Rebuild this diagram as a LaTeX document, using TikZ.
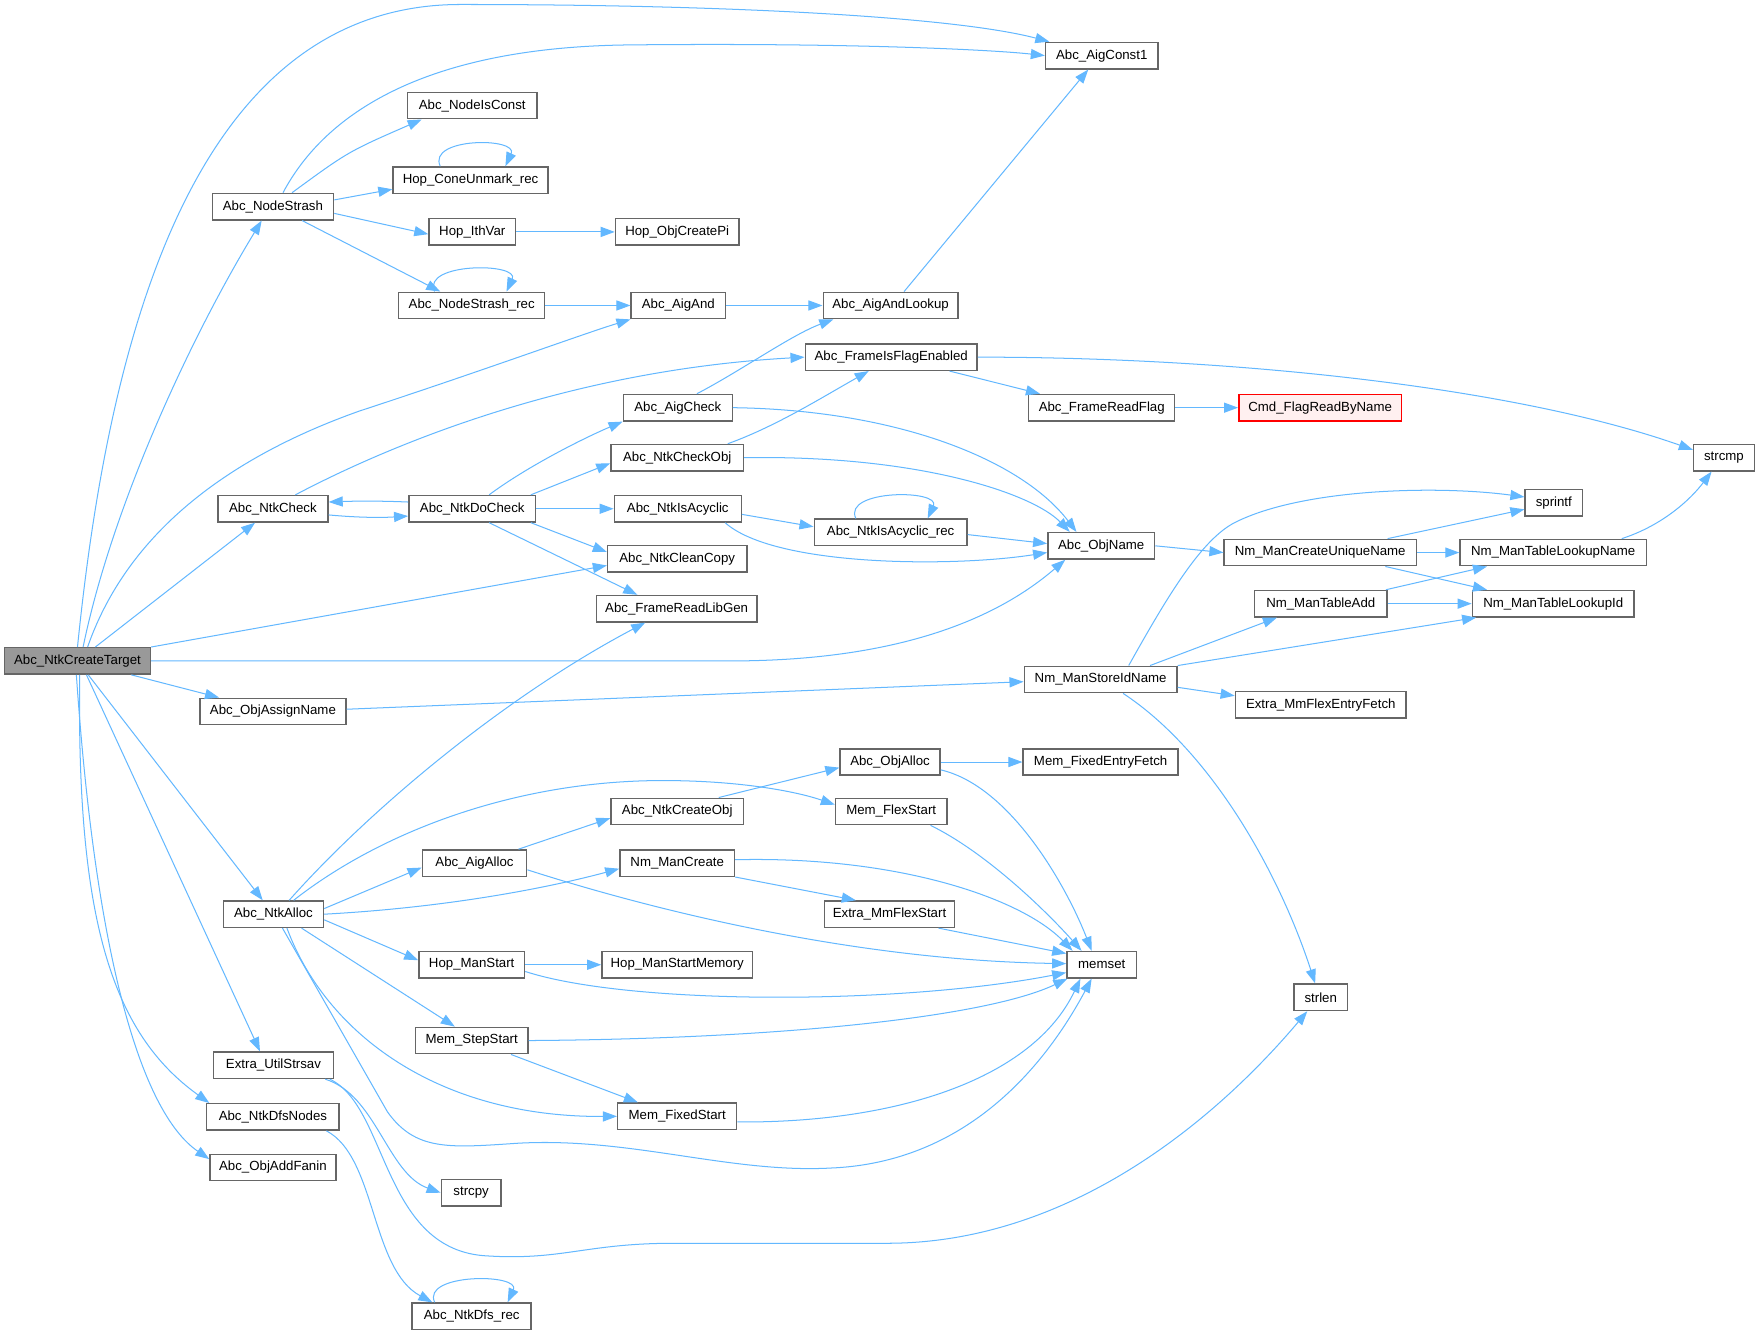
\documentclass[tikz,border=0pt]{standalone}
\usepackage{fontspec}
\setmainfont{Liberation Sans}
\usetikzlibrary{arrows.meta}
\definecolor{edgec}{HTML}{63B8FF}
\definecolor{bord}{HTML}{666666}
\definecolor{rootf}{HTML}{999999}
\definecolor{redf}{HTML}{FFF0F0}
\begin{document}
\begin{tikzpicture}[x=1pt,y=-1pt,
  fn/.style={draw=bord, fill=white, line width=1.3pt, minimum width=#1, minimum height=23.5pt, inner sep=0pt, font=\fontsize{11.8}{13}\selectfont},
  root/.style={fn=#1, fill=rootf},
  redn/.style={fn=#1, draw=red, fill=redf},
  e/.style={draw=edgec, line width=0.9pt, -{Triangle[length=12.5pt,width=9pt]}},
]
\fill[white] (0,0) rectangle (1568,1190);
\useasboundingbox (0,0) rectangle (1568,1190);

\node[root=130] (T) at (69,588.5) {Abc\_NtkCreateTarget};
\node[fn=100] (AC1) at (981,49.5) {Abc\_AigConst1};
\node[fn=115] (NIC) at (420.5,94) {Abc\_NodeIsConst};
\node[fn=138] (HCU) at (419,160.5) {Hop\_ConeUnmark\_rec};
\node[fn=108] (NS) at (243,184) {Abc\_NodeStrash};
\node[fn=77] (HIV) at (420.5,206.5) {Hop\_IthVar};
\node[fn=110] (HOP) at (603,206.5) {Hop\_ObjCreatePi};
\node[fn=130] (NSR) at (420,272) {Abc\_NodeStrash\_rec};
\node[fn=84] (AA) at (604,272) {Abc\_AigAnd};
\node[fn=120] (AAL) at (793,272) {Abc\_AigAndLookup};
\node[fn=153] (FIF) at (793.5,318) {Abc\_FrameIsFlagEnabled};
\node[fn=97] (ACk) at (603.5,363) {Abc\_AigCheck};
\node[fn=130] (FRF) at (981,363) {Abc\_FrameReadFlag};
\node[redn=145] (CMD) at (1175.5,363) {Cmd\_FlagReadByName};
\node[fn=54] (SCMP) at (1535,407.5) {strcmp};
\node[fn=118] (NCO) at (603,407.5) {Abc\_NtkCheckObj};
\node[fn=51] (SPR) at (1383.5,447.5) {sprintf};
\node[fn=98] (NC) at (243,453) {Abc\_NtkCheck};
\node[fn=113] (NDC) at (420.5,453) {Abc\_NtkDoCheck};
\node[fn=113] (NIA) at (603.5,453) {Abc\_NtkIsAcyclic};
\node[fn=136] (NIAR) at (793,474) {Abc\_NtkIsAcyclic\_rec};
\node[fn=95] (ON) at (980.5,486) {Abc\_ObjName};
\node[fn=171] (CUN) at (1175.5,492) {Nm\_ManCreateUniqueName};
\node[fn=166] (TLN) at (1383,492) {Nm\_ManTableLookupName};
\node[fn=124] (NCC) at (603,497.5) {Abc\_NtkCleanCopy};
\node[fn=143] (FRL) at (602.5,542) {Abc\_FrameReadLibGen};
\node[fn=118] (TA) at (1176,537.5) {Nm\_ManTableAdd};
\node[fn=144] (TLI) at (1383,537.5) {Nm\_ManTableLookupId};
\node[fn=136] (SIN) at (980,605) {Nm\_ManStoreIdName};
\node[fn=130] (OAN) at (243,633.5) {Abc\_ObjAssignName};
\node[fn=152] (MFE) at (1176,627.5) {Extra\_MmFlexEntryFetch};
\node[fn=89] (OA) at (792.5,678.5) {Abc\_ObjAlloc};
\node[fn=138] (FEF) at (980,678.5) {Mem\_FixedEntryFetch};
\node[fn=118] (NCOb) at (603,722.5) {Abc\_NtkCreateObj};
\node[fn=99] (MFS) at (793.5,722.5) {Mem\_FlexStart};
\node[fn=93] (AAl) at (422.5,768.5) {Abc\_AigAlloc};
\node[fn=102] (NMC) at (603,768.5) {Nm\_ManCreate};
\node[fn=89] (NA) at (243.5,814) {Abc\_NtkAlloc};
\node[fn=116] (EMFS) at (792,814) {Extra\_MmFlexStart};
\node[fn=94] (HMS) at (420,859) {Hop\_ManStart};
\node[fn=134] (HMSM) at (603,859) {Hop\_ManStartMemory};
\node[fn=62] (MS) at (981,859) {memset};
\node[fn=48] (SL) at (1176,888) {strlen};
\node[fn=100] (MSS) at (420,926.5) {Mem\_StepStart};
\node[fn=107] (EUS) at (243.5,948.5) {Extra\_UtilStrsav};
\node[fn=118] (NDN) at (243,994.5) {Abc\_NtkDfsNodes};
\node[fn=106] (MFxS) at (603,994) {Mem\_FixedStart};
\node[fn=112] (OAF) at (243,1039.5) {Abc\_ObjAddFanin};
\node[fn=53] (SCPY) at (419.5,1062) {strcpy};
\node[fn=106] (NDR) at (420,1172) {Abc\_NtkDfs\_rec};

% Abc_NtkCreateTarget
\draw[e] (T.north) .. controls (95,320) and (165,4) .. (410,4) .. controls (650,4) and (850,15) .. ([xshift=4]AC1.north west);
\draw[e] ([xshift=5]T.north) .. controls (100,450) and (170,300) .. ([xshift=-10]NS.south);
\draw[e] ([xshift=9]T.north) .. controls (115,470) and (210,405) .. (320,366) .. controls (430,330) and (520,297) .. (AA.south west);
\draw[e] (T) -- (NC);
\draw[e] (T.north east) -- ([yshift=-6]NCC.west);
\draw[e] (T.east) -- (650,588.5) .. controls (820,588.5) and (900,540) .. ([xshift=-32]ON.south);
\draw[e] (T) -- (OAN);
\draw[e] (T) -- (NA);
\draw[e] ([xshift=8]T.south) -- ([xshift=-12]EUS.north);
\draw[e] ([xshift=2]T.south) .. controls (68,820) and (100,920) .. ([xshift=3]NDN.north west);
\draw[e] ([xshift=-1]T.south) .. controls (85,850) and (125,990) .. ([yshift=-5]OAF.north west);

% Abc_NodeStrash
\draw[e] ([xshift=9]NS.north) .. controls (290,100) and (380,42) .. (560,40) .. controls (750,38) and (880,44) .. (AC1.west);
\draw[e] ([xshift=17]NS.north) .. controls (310,135) .. ([xshift=-45]NIC.south);
\draw[e] ([yshift=6]NS.east) -- ([yshift=-8]HCU.west);
\draw[e] ([yshift=-6]NS.east) -- ([yshift=-2]HIV.west);
\draw[e] ([xshift=26]NS.south) -- ([xshift=-28]NSR.north);
\draw[e] ([xshift=-27]HCU.north) .. controls +(-12,-26) and +(12,-26) .. ([xshift=31]HCU.north);
\draw[e] (HIV) -- (HOP);
\draw[e] ([xshift=-33]NSR.north) .. controls +(-12,-26) and +(12,-26) .. ([xshift=31]NSR.north);
\draw[e] (NSR) -- (AA);
\draw[e] (AA) -- (AAL);
\draw[e] ([xshift=12]AAL.north) -- ([xshift=-12]AC1.south);

% Abc_NtkCheck / DoCheck
\draw[e] ([xshift=20]NC.north) .. controls (340,400) and (500,330) .. (FIF.west);
\draw[e] ([yshift=-5.5]NC.east) .. controls (320,461) and (340,461) .. ([yshift=-6.5]NDC.west);
\draw[e] ([yshift=6]NDC.west) .. controls (340,446) and (320,446) .. ([yshift=6]NC.east);
\draw[e] ([xshift=15]NDC.north) .. controls (470,415) and (520,390) .. (ACk.south west);
\draw[e] ([xshift=-5]NDC.north east) -- ([yshift=-5]NCO.west);
\draw[e] (NDC) -- (NIA);
\draw[e] ([xshift=-5]NDC.south east) -- ([yshift=6]NCC.west);
\draw[e] ([xshift=15]NDC.south) -- ([xshift=-35]FRL.north);

% AigCheck, CheckObj, IsAcyclic
\draw[e] ([xshift=17]ACk.north) .. controls (660,330) and (705,298) .. ([xshift=-51]AAL.south);
\draw[e] (ACk.east) .. controls (800,365) and (910,410) .. ([xshift=-22]ON.north);
\draw[e] ([xshift=45]NCO.north) .. controls (690,380) and (730,355) .. ([xshift=-20]FIF.south);
\draw[e] (NCO.east) .. controls (820,405) and (920,440) .. ([xshift=-28]ON.north);
\draw[e] ([yshift=-5]NIA.east) -- ([yshift=5]NIAR.west);
\draw[e] ([xshift=-15]NIA.south east) .. controls (690,505) and (850,505) .. ([yshift=-6]ON.west);
\draw[e] ([yshift=-2]NIAR.east) -- ([yshift=2]ON.west);
\draw[e] ([xshift=-31]NIAR.north) .. controls +(-12,-26) and +(12,-26) .. ([xshift=33]NIAR.north);

% Frame
\draw[e] (FIF.east) .. controls (1100,318) and (1350,345) .. ([yshift=7]SCMP.west);
\draw[e] ([xshift=52]FIF.south) -- ([xshift=-55]FRF.north);
\draw[e] (FRF) -- (CMD);

% Names
\draw[e] (ON.east) -- (CUN.west);
\draw[e] ([xshift=60]CUN.north) -- ([yshift=-6]SPR.west);
\draw[e] (CUN) -- (TLN);
\draw[e] ([xshift=58]CUN.south) -- ([xshift=-59]TLI.north);
\draw[e] ([xshift=58]TA.north) -- ([xshift=-59]TLN.south);
\draw[e] (TA) -- (TLI);
\draw[e] ([xshift=61]TLN.north) .. controls (1480,468) and (1505,445) .. ([xshift=-11]SCMP.south);
\draw[e] ([yshift=2]OAN.east) -- ([yshift=-2]SIN.west);
\draw[e] ([xshift=25]SIN.north) .. controls (1040,530) and (1070,480) .. (1100,465) .. controls (1160,435) and (1280,432) .. ([yshift=5]SPR.west);
\draw[e] ([xshift=44]SIN.north) -- ([xshift=-39]TA.south);
\draw[e] (SIN.north east) -- ([xshift=4]TLI.south west);
\draw[e] ([yshift=-7]SIN.east) -- ([yshift=8]MFE.west);
\draw[e] ([xshift=20]SIN.south) .. controls (1080,670) and (1140,780) .. ([xshift=-5]SL.north);

% Abc_NtkAlloc
\draw[e] ([xshift=14]NA.north) .. controls (330,720) and (450,620) .. ([xshift=-28]FRL.south);
\draw[e] ([xshift=18]NA.north) .. controls (340,740) and (460,695) .. (590,695) .. controls (660,695) and (710,705) .. ([yshift=6]MFS.west);
\draw[e] ([yshift=5]NA.east) -- ([yshift=-4]AAl.west);
\draw[e] (NA.east) .. controls (400,808) and (490,790) .. ([yshift=-5]NMC.west);
\draw[e] ([yshift=-5]NA.east) -- ([yshift=4]HMS.west);
\draw[e] ([xshift=25]NA.south) -- ([xshift=-15]MSS.north);
\draw[e] ([xshift=12]NA.south) .. controls (290,920) and (390,995) .. (MFxS.west);
\draw[e] ([xshift=8]NA.south) -- (345,990) .. controls (370,1025) and (400,1022) .. (460,1018) .. controls (560,1012) and (650,1045) .. (740,1040) .. controls (860,1035) and (930,950) .. ([xshift=-9]MS.south);

% memory
\draw[e] ([xshift=-8]AAl.north east) -- ([yshift=-6]NCOb.west);
\draw[e] ([yshift=-6]AAl.east) .. controls (580,810) and (760,855) .. ([yshift=1]MS.west);
\draw[e] ([xshift=37]NCOb.north) -- ([yshift=-5]OA.west);
\draw[e] (OA) -- (FEF);
\draw[e] ([yshift=-7]OA.east) .. controls (900,700) and (950,790) .. ([xshift=-9]MS.north);
\draw[e] ([xshift=35]MFS.south) .. controls (880,760) and (935,815) .. ([xshift=-18]MS.north);
\draw[e] ([yshift=3]NMC.east) .. controls (800,762) and (910,800) .. ([xshift=-26]MS.north);
\draw[e] (NMC.south east) -- ([xshift=-30]EMFS.north);
\draw[e] ([xshift=-15]EMFS.south east) -- ([yshift=10]MS.west);
\draw[e] (HMS) -- (HMSM);
\draw[e] ([yshift=-6]HMS.east) .. controls (560,895) and (800,895) .. ([yshift=-7]MS.west);
\draw[e] (MSS.east) .. controls (700,925) and (880,905) .. ([xshift=1]MS.south west);
\draw[e] ([xshift=35]MSS.south) -- ([xshift=-35]MFxS.north);
\draw[e] ([yshift=-5]MFxS.east) .. controls (800,1000) and (920,960) .. ([xshift=-19]MS.south);

% strings, dfs
\draw[e] ([xshift=-8]EUS.south east) .. controls (335,975) and (345,1045) .. (SCPY.west);
\draw[e] ([xshift=-4]EUS.south east) .. controls (345,985) and (340,1110) .. (430,1118) .. controls (500,1123) and (520,1107) .. (600,1107) -- (790,1107) .. controls (950,1107) and (1080,1000) .. ([xshift=-12]SL.south);
\draw[e] ([xshift=-12]NDN.south east) .. controls (335,1030) and (330,1130) .. ([xshift=-35]NDR.north);
\draw[e] ([xshift=-33]NDR.north) .. controls +(-12,-26) and +(12,-26) .. ([xshift=32]NDR.north);
\end{tikzpicture}
\end{document}
